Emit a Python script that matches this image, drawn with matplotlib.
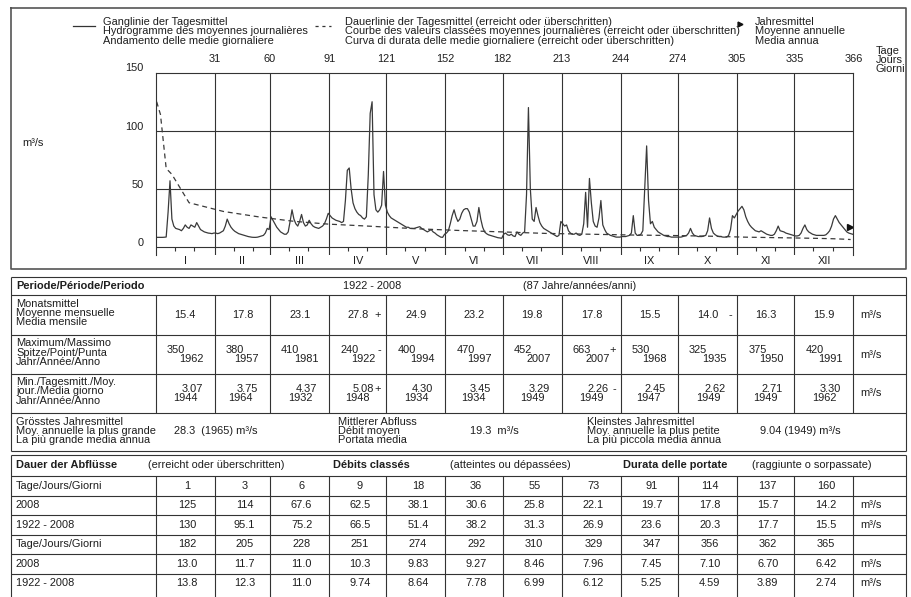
import matplotlib
matplotlib.use('Agg')
import numpy as np
import matplotlib.pyplot as plt

plt.rcParams['font.family'] = ['Liberation Sans', 'DejaVu Sans']
plt.rcParams['font.size'] = 7.9

# ---------------- data ----------------
month_end = [31, 60, 91, 121, 152, 182, 213, 244, 274, 305, 335, 366]
month_names = ['I', 'II', 'III', 'IV', 'V', 'VI', 'VII', 'VIII', 'IX', 'X', 'XI', 'XII']

# daily means 2008 (m3/s)
jan = [8.3, 8.3, 8.3, 8.3, 8.4, 8.6, 30, 57, 24, 18, 16, 15.5, 15, 14, 16, 19, 17, 16, 19, 18,
       17, 21, 18, 15, 14, 13, 12.5, 12, 11.8, 11.5, 12]
feb = [12, 11.5, 12, 13, 14, 18, 24, 20, 17, 15, 13.5, 12.5, 11.5, 11, 10.5, 10, 9.5, 9, 8.7, 8.4,
       8.3, 8.3, 8.5, 9, 9.5, 10, 12, 16, 15]
mar = [26, 23, 20, 17, 15, 13, 12, 11, 11, 13, 22, 32, 24, 20, 18, 22, 28, 21, 18, 19,
       23, 20, 18, 17, 16.5, 16, 17, 18, 20, 24, 29]
apr = [27, 25, 24, 23, 22.5, 22, 21, 22, 40, 66, 68, 50, 38, 33, 30, 28, 27, 25, 24, 26,
       62, 115, 125, 45, 32, 30, 32, 36, 65, 36]
may = [30, 27, 25, 24, 23, 22, 21, 20, 19, 18, 17, 17, 16, 16, 16, 16.5, 17, 17.5, 16, 15,
       14, 13, 14, 15, 13, 12, 10.5, 9.5, 8.5, 8.3, 11]
jun = [12, 14, 20, 27, 32, 26, 22, 24, 29, 32, 33, 33, 30, 24, 18, 18, 22, 34, 24, 17,
       13, 11.5, 10.5, 10, 9.5, 9, 8.5, 8, 7.8, 7.5]
jul = [11, 12, 10.5, 10, 11, 9.5, 9, 13, 11, 10, 12, 13, 45, 120, 50, 24, 22, 34, 27, 21,
       18, 16, 15, 14, 13, 12, 11, 10, 9, 10, 22]
aug = [20, 18, 19, 14, 12, 11, 11, 12, 10.5, 10, 11, 20, 47, 17, 59, 38, 22, 18, 17, 25,
       40, 19, 15, 12, 11, 10, 9.5, 9, 8.5, 8.5, 8.5]
sep = [9, 9, 9, 9.5, 10, 12, 27, 12, 10, 10, 11, 14, 50, 87, 40, 20, 22, 17, 15, 13,
       12, 11, 10, 9.5, 9, 9, 8.5, 8.5, 8.5, 8.5]
oct_ = [8.5, 8.5, 9, 9.5, 10, 12, 16, 12, 10, 9.5, 9, 9, 9, 9.5, 10, 14, 25, 16, 12, 10.5,
        9.5, 9, 9, 8.5, 8.5, 8.5, 10, 15, 27, 25, 28]
nov = [31, 33, 35, 32, 26, 22, 19, 17, 15.5, 14, 13.5, 13, 14, 13, 12, 11, 10.5, 10, 10, 11,
       14, 18, 14, 13.5, 13, 12, 11.5, 11, 10.5, 10]
dec = [9.5, 9.5, 10, 12, 16, 19, 15, 13, 12, 11, 10.5, 10, 10, 10, 10, 10, 10.5, 12, 14, 18,
       24, 27, 24, 21, 19, 17, 15, 13, 12, 11.5, 11]
q_2008 = jan + feb + mar + apr + may + jun + jul + aug + sep + oct_ + nov + dec
annual_mean = 17.5

# duration table
dur_days = [1, 3, 6, 9, 18, 36, 55, 73, 91, 114, 137, 160,
            182, 205, 228, 251, 274, 292, 310, 329, 347, 356, 362, 365]
dur_2008 = ['125', '114', '67.6', '62.5', '38.1', '30.6', '25.8', '22.1', '19.7', '17.8', '15.7', '14.2',
            '13.0', '11.7', '11.0', '10.3', '9.83', '9.27', '8.46', '7.96', '7.45', '7.10', '6.70', '6.42']
dur_long = ['130', '95.1', '75.2', '66.5', '51.4', '38.2', '31.3', '26.9', '23.6', '20.3', '17.7', '15.5',
            '13.8', '12.3', '11.0', '9.74', '8.64', '7.78', '6.99', '6.12', '5.25', '4.59', '3.89', '2.74']

# monthly statistics 1922-2008
monthly_mean = ['15.4', '17.8', '23.1', '27.8', '24.9', '23.2', '19.8', '17.8', '15.5', '14.0', '16.3', '15.9']
monthly_mark = ['', '', '', '+', '', '', '', '', '', '-', '', '']
max_val = ['350', '380', '410', '240', '400', '470', '452', '663', '530', '325', '375', '420']
max_year = ['1962', '1957', '1981', '1922', '1994', '1997', '2007', '2007', '1968', '1935', '1950', '1991']
max_mark = ['', '', '', '-', '', '', '', '+', '', '', '', '']
min_val = ['3.07', '3.75', '4.37', '5.08', '4.30', '3.45', '3.29', '2.26', '2.45', '2.62', '2.71', '3.30']
min_year = ['1944', '1964', '1932', '1948', '1934', '1934', '1949', '1949', '1947', '1949', '1949', '1962']
min_mark = ['', '', '', '+', '', '', '', '-', '', '', '', '']

# ---------------- layout ----------------
W, H = 912, 597
fig = plt.figure(figsize=(W / 100, H / 100), dpi=100)
bg = fig.add_axes([0, 0, 1, 1])
bg.set_xlim(0, W)
bg.set_ylim(H, 0)
bg.axis('off')

tc = '#1e1e1e'
lc = '#333333'
x0, x1 = 155.7, 853.5
y150, y0, ybot = 72.7, 247.0, 255.0
ppu = (y0 - y150) / 150.0

def dx(d):
    return x0 + d * (x1 - x0) / 366.0

edges = [dx(0)] + [dx(d) for d in month_end]
centers = [(edges[i] + edges[i + 1]) / 2 for i in range(12)]
L, R = 11, 906

def hl(y, xa=L, xb=R):
    bg.plot([xa, xb], [y, y], color=lc, lw=0.8, solid_capstyle='butt')

def vl(x, ya, yb):
    bg.plot([x, x], [ya, yb], color=lc, lw=0.8, solid_capstyle='butt')

def txt(x, y, s, **kw):
    kw.setdefault('va', 'center')
    kw.setdefault('color', tc)
    bg.text(x, y, s, **kw)

def lines3(x, yc, rows, **kw):
    txt(x, yc, '\n'.join(rows), linespacing=0.9, **kw)

# ---------------- chart ----------------
ax = fig.add_axes([x0 / W, 1 - ybot / H, (x1 - x0) / W, (ybot - y150) / H])
ax.set_xlim(0, 366)
ax.set_ylim(-(ybot - y0) / ppu, 150)
ax.set_xticks([])
ax.set_yticks([])
ax.patch.set_alpha(0)
for s in ['left', 'right', 'top']:
    ax.spines[s].set_color(lc)
    ax.spines[s].set_linewidth(0.8)
ax.spines['bottom'].set_visible(False)
for v in [0, 50, 100]:
    ax.axhline(v, color=lc, lw=0.8)
for d in month_end[:-1]:
    ax.axvline(d, color=lc, lw=0.8)
starts = [0] + month_end[:-1]
ax.vlines([s + 10 for s in starts] + [s + 20 for s in starts], -3.2, 0, color=lc, lw=0.8)

ax.plot(np.arange(len(q_2008)) + 0.5, q_2008, color='#3a3a3a', lw=0.9)
ax.plot(np.array(dur_days) - 0.5, [float(v) for v in dur_2008], color='#3a3a3a', lw=0.9,
        ls=(0, (4, 3)))
ax.plot([364.3], [annual_mean], marker='>', ms=4.5, color='#111111', clip_on=False)

for v in [0, 50, 100, 150]:
    txt(144, y0 - v * ppu - 4.3, str(v), ha='right')
for d in month_end:
    txt(dx(d), 59, str(d), ha='center')
for c, m in zip(centers, month_names):
    txt(c, 261, m, ha='center')
lines3(876, 60, ['Tage', 'Jours', 'Giorni'], ha='left')
txt(22, 143, 'm³/s', ha='left')

# legend
lines3(103, 31.5, ['Ganglinie der Tagesmittel', 'Hydrogramme des moyennes journalières',
                   'Andamento delle medie giornaliere'], ha='left')
bg.plot([73, 95], [26, 26], color=lc, lw=0.9)
lines3(345, 31.5, ['Dauerlinie der Tagesmittel (erreicht oder überschritten)',
                   'Courbe des valeurs classées moyennes journalières (erreicht oder überschritten)',
                   'Curva di durata delle medie giornaliere (erreicht oder überschritten)'], ha='left')
bg.plot([315, 331], [26, 26], color=lc, lw=0.9, ls=(0, (2.5, 3)))
lines3(755, 31.5, ['Jahresmittel', 'Moyenne annuelle', 'Media annua'], ha='left')
bg.plot([740], [24], marker='>', ms=3.5, color='#111111')

# outer frame of chart section
bg.plot([L, R, R, L, L], [8, 8, 269, 269, 8], color='#555555', lw=1.2)

# ---------------- table 1 ----------------
t1 = [277, 295, 335, 374, 413, 451]
for y in t1:
    hl(y)
vl(L, t1[0], t1[-1])
vl(R, t1[0], t1[-1])
for e in edges:
    vl(e, t1[1], t1[4])

txt(16, 286, 'Periode/Période/Periodo', ha='left', fontweight='bold')
txt(372, 286, '1922 - 2008', ha='center')
txt(523, 286, '(87 Jahre/années/anni)', ha='left')

lines3(16, 313, ['Monatsmittel', 'Moyenne mensuelle', 'Media mensile'], ha='left')
lines3(16, 352.5, ['Maximum/Massimo', 'Spitze/Point/Punta', 'Jahr/Année/Anno'], ha='left')
lines3(16, 391.5, ['Min./Tagesmitt./Moy.', 'jour./Media giorno', 'Jahr/Année/Anno'], ha='left')

for i in range(12):
    c, lft, rgt = centers[i], edges[i], edges[i + 1]
    txt(c, 315, monthly_mean[i], ha='center')
    txt(rgt - 5, 315, monthly_mark[i], ha='right')
    txt(lft + 11, 350, max_val[i], ha='left')
    txt(rgt - 11, 359, max_year[i], ha='right')
    txt(rgt - 5, 350, max_mark[i], ha='right')
    txt(rgt - 12, 389, min_val[i], ha='right')
    txt(rgt - 17, 398, min_year[i], ha='right')
    txt(rgt - 5, 389, min_mark[i], ha='right')
for y in [315, 354.5, 393.5]:
    txt(860, y, 'm³/s', ha='left')

lines3(16, 431, ['Grösstes Jahresmittel', 'Moy. annuelle la plus grande', 'La più grande media annua'], ha='left')
txt(174, 431, '28.3  (1965) m³/s', ha='left')
lines3(338, 431, ['Mittlerer Abfluss', 'Débit moyen', 'Portata media'], ha='left')
txt(470, 431, '19.3  m³/s', ha='left')
lines3(587, 431, ['Kleinstes Jahresmittel', 'Moy. annuelle la plus petite', 'La più piccola media annua'], ha='left')
txt(760, 431, '9.04 (1949) m³/s', ha='left')

# ---------------- table 2 ----------------
t2 = [455, 476, 495.5, 515, 534.5, 554, 573.5]
for y in t2:
    hl(y)
vl(L, t2[0], H)
vl(R, t2[0], H)
for e in edges:
    vl(e, t2[1], H)
hy = (t2[0] + t2[1]) / 2
txt(16, hy, 'Dauer der Abflüsse', ha='left', fontweight='bold')
txt(148, hy, '(erreicht oder überschritten)', ha='left')
txt(333, hy, 'Débits classés', ha='left', fontweight='bold')
txt(450, hy, '(atteintes ou dépassées)', ha='left')
txt(623, hy, 'Durata delle portate', ha='left', fontweight='bold')
txt(752, hy, '(raggiunte o sorpassate)', ha='left')

row_labels = ['Tage/Jours/Giorni', '2008', '1922 - 2008']
for half in range(2):
    for r in range(3):
        y = t2[1 + half * 3 + r] + 9.75
        txt(16, y, row_labels[r], ha='left')
        for i in range(12):
            k = half * 12 + i
            s = [str(dur_days[k]), dur_2008[k], dur_long[k]][r]
            txt(centers[i] + 2, y, s, ha='center')
        if r > 0:
            txt(860, y, 'm³/s', ha='left')

fig.savefig('out.png', dpi=100)
